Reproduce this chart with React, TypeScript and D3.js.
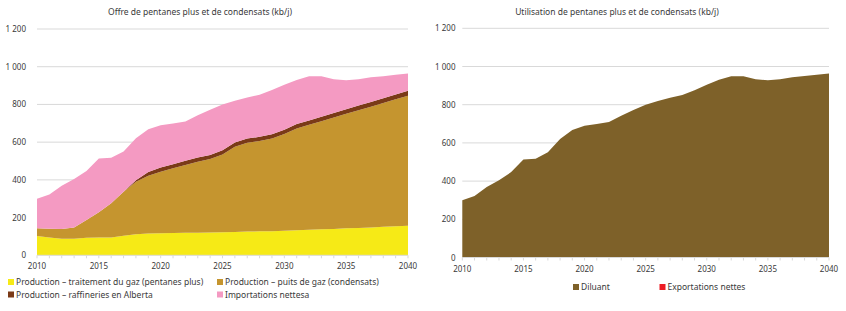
import React from 'react'
import * as d3 from 'd3'

// années de la projection
const years = [
  2010, 2011, 2012, 2013, 2014, 2015, 2016, 2017, 2018, 2019, 2020,
  2021, 2022, 2023, 2024, 2025, 2026, 2027, 2028, 2029, 2030,
  2031, 2032, 2033, 2034, 2035, 2036, 2037, 2038, 2039, 2040,
]
const yTicks = [0, 200, 400, 600, 800, 1000, 1200]
const xLabels = [2010, 2015, 2020, 2025, 2030, 2035, 2040]

// offre (kb/j)
const traitement = [102, 95, 88, 88, 93, 95, 95, 104, 111, 115, 117, 118, 119, 120, 121, 122, 124, 126, 127, 128, 130, 133, 136, 138, 140, 143, 145, 148, 151, 154, 157]
const puits = [41, 46, 51, 60, 94, 133, 181, 233, 279, 307, 326, 343, 360, 376, 389, 413, 452, 471, 479, 492, 513, 540, 556, 573, 591, 607, 624, 640, 656, 673, 689]
const raffineries = [0, 0, 0, 0, 0, 0, 0, 0, 8, 20, 22, 22, 22, 22, 22, 22, 22, 22, 22, 22, 23, 23, 23, 24, 24, 24, 25, 25, 26, 26, 26]
const importations = [157, 181, 230, 256, 260, 285, 241, 214, 223, 226, 225, 216, 208, 224, 240, 243, 222, 218, 223, 234, 238, 234, 234, 214, 178, 154, 139, 131, 117, 104, 92]

// utilisation (kb/j)
const diluant = [300, 322, 369, 404, 447, 513, 517, 551, 621, 668, 690, 699, 709, 742, 772, 800, 820, 837, 851, 876, 904, 930, 949, 949, 933, 928, 933, 944, 950, 957, 964]
const exportations = [0, 0, 0, 0, 0, 0, 0, 0, 0, 0, 0, 0, 0, 0, 0, 0, 0, 0, 0, 0, 0, 0, 0, 0, 0, 0, 0, 0, 0, 0, 0]

const FONT = '"Noto Sans", sans-serif'
const TEXT = '#3a3a3a'
const GRID = '#d9d9d9'

const fr = d3.formatLocale({ decimal: ',', thousands: ' ', grouping: [3], currency: ['', ''] })
const fmt = fr.format(',')

type Series = { name: string; values: number[]; color: string }
type LegendItem = { name: string; color: string; x: number; y: number }

const Panel = ({ title, series, left, right, top, bottom, yLabelX, titleX, legend }: {
  title: string; series: Series[]; left: number; right: number; top: number; bottom: number
  yLabelX: number; titleX: number; legend: LegendItem[]
}) => {
  const x = d3.scaleLinear().domain([2010, 2040]).range([left, right])
  const y = d3.scaleLinear().domain([0, 1200]).range([bottom, top])

  const rows = years.map((yr, i) => {
    const r: any = { year: yr }
    series.forEach(s => { r[s.name] = s.values[i] })
    return r
  })
  const stacked = d3.stack().keys(series.map(s => s.name))(rows)
  const area = d3.area<any>()
    .x(d => x(d.data.year))
    .y0(d => y(d[0]))
    .y1(d => y(d[1]))

  return (
    <g fontFamily={FONT} fill={TEXT}>
      <text x={titleX} y={15} fontSize={8.5} textAnchor="middle">{title}</text>
      {yTicks.map(t => (
        <g key={t}>
          {t > 0 && <line x1={left} x2={right} y1={y(t)} y2={y(t)} stroke={GRID} strokeWidth={1} />}
          <text x={yLabelX} y={y(t) + 3} fontSize={8} textAnchor="end">{fmt(t)}</text>
        </g>
      ))}
      {stacked.map((layer, i) => (
        <path key={layer.key} d={area(layer as any) || ''} fill={series[i].color} />
      ))}
      <line x1={left} x2={right} y1={bottom} y2={bottom} stroke={GRID} strokeWidth={1} />
      {years.map(yr => (
        <line key={yr} x1={x(yr)} x2={x(yr)} y1={bottom} y2={bottom + 3} stroke={GRID} strokeWidth={1} />
      ))}
      {xLabels.map(yr => (
        <text key={yr} x={x(yr)} y={bottom + 14} fontSize={8} textAnchor="middle">{yr}</text>
      ))}
      {legend.map(l => (
        <g key={l.name}>
          <rect x={l.x} y={l.y - 6} width={6} height={6} fill={l.color} />
          <text x={l.x + 8} y={l.y} fontSize={8.5}>{l.name}</text>
        </g>
      ))}
    </g>
  )
}

export default function App() {
  const offre: Series[] = [
    { name: 'Production – traitement du gaz (pentanes plus)', values: traitement, color: '#f6ea16' },
    { name: 'Production – puits de gaz (condensats)', values: puits, color: '#c5952f' },
    { name: 'Production – raffineries en Alberta', values: raffineries, color: '#7a3a17' },
    { name: 'Importations nettesa', values: importations, color: '#f49ac2' },
  ]
  const usage: Series[] = [
    { name: 'Exportations nettes', values: exportations, color: '#ed1c24' },
    { name: 'Diluant', values: diluant, color: '#7e6129' },
  ]
  return (
    <svg width={846} height={311} style={{ position: 'absolute', left: 0, top: 0, background: '#fff' }}>
      <Panel
        title="Offre de pentanes plus et de condensats (kb/j)"
        series={offre}
        left={37} right={408} top={29} bottom={255.3}
        yLabelX={26} titleX={200}
        legend={[
          { name: offre[0].name, color: offre[0].color, x: 8, y: 285 },
          { name: offre[1].name, color: offre[1].color, x: 217, y: 285 },
          { name: offre[2].name, color: offre[2].color, x: 8, y: 297.5 },
          { name: offre[3].name, color: offre[3].color, x: 217, y: 297.5 },
        ]}
      />
      <Panel
        title="Utilisation de pentanes plus et de condensats (kb/j)"
        series={usage}
        left={462.3} right={829} top={28.3} bottom={257.5}
        yLabelX={455.5} titleX={617}
        legend={[
          { name: 'Diluant', color: usage[1].color, x: 573, y: 290 },
          { name: 'Exportations nettes', color: usage[0].color, x: 659.5, y: 290 },
        ]}
      />
    </svg>
  )
}
